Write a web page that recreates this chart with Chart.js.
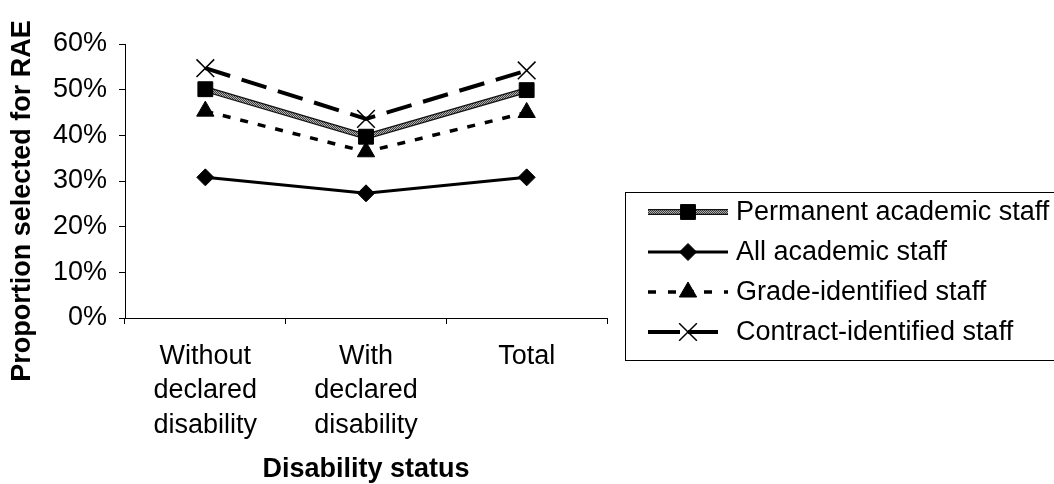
<!DOCTYPE html>
<html>
<head>
<meta charset="utf-8">
<script src="https://cdn.jsdelivr.net/npm/chart.js@4/dist/chart.umd.min.js"></script>
<style>
  html, body { margin: 0; padding: 0; background: #fff; }
  #wrap { width: 1054px; height: 484px; position: relative; }
</style>
</head>
<body>
<div id="wrap"><canvas id="c" width="1054" height="484"></canvas></div>
<script>
// Categories on the x axis (multi-line labels)
const categories = [
  ['Without', 'declared', 'disability'],
  ['With', 'declared', 'disability'],
  ['Total']
];

// Proportion selected for RAE, per staff group
const permanentAcademic = [0.501, 0.397, 0.499];
const allAcademic = [0.308, 0.273, 0.308];
const gradeIdentified = [0.453, 0.364, 0.450];
const contractIdentified = [0.547, 0.436, 0.542];

const seriesNames = [
  'Permanent academic staff',
  'All academic staff',
  'Grade-identified staff',
  'Contract-identified staff'
];

const yTickValues = [0, 0.1, 0.2, 0.3, 0.4, 0.5, 0.6];

const FONT = '"Liberation Sans", Arial, sans-serif';
const FS = 27;

// Grey stippled stroke used for the permanent-staff line
function stipple() {
  const p = document.createElement('canvas');
  p.width = 2; p.height = 2;
  const g = p.getContext('2d');
  g.fillStyle = '#b4b4b4'; g.fillRect(0, 0, 2, 2);
  g.fillStyle = '#3c3c3c'; g.fillRect(0, 0, 1, 1); g.fillRect(1, 1, 1, 1);
  return g.createPattern(p, 'repeat');
}

const datasets = [
  {
    label: seriesNames[0], data: permanentAcademic,
    borderColor: stipple(), borderWidth: 3.5, edge: 6,
    pointStyle: 'rect', pointRadius: 10.5,
    pointBackgroundColor: '#000', pointBorderColor: '#000', pointBorderWidth: 1
  },
  {
    label: seriesNames[1], data: allAcademic,
    borderColor: '#000', borderWidth: 3,
    pointStyle: 'rectRot', pointRadius: 8.5,
    pointBackgroundColor: '#000', pointBorderColor: '#000', pointBorderWidth: 1
  },
  {
    label: seriesNames[2], data: gradeIdentified,
    borderColor: '#000', borderWidth: 3.5, borderDash: [8, 10],
    legendDash: [8, 12, 8, 10, 8, 10, 8, 12],
    pointStyle: 'triangle', pointRadius: 10,
    pointBackgroundColor: '#000', pointBorderColor: '#000', pointBorderWidth: 1
  },
  {
    label: seriesNames[3], data: contractIdentified,
    borderColor: '#000', borderWidth: 4, borderDash: [26, 12],
    legendDash: [32, 8, 30, 100],
    pointStyle: 'crossRot', pointRadius: 12.5,
    pointBackgroundColor: '#000', pointBorderColor: '#000', pointBorderWidth: 1.5
  }
];

// Dark rim under the stippled permanent-staff line
const lineRim = {
  id: 'lineRim',
  beforeDatasetDraw(chart, args) {
    const ds = chart.data.datasets[args.index];
    if (!ds.edge) return;
    const line = args.meta.dataset;
    const opts = line.options;
    const saved = { c: opts.borderColor, w: opts.borderWidth };
    opts.borderColor = '#111';
    opts.borderWidth = ds.edge;
    line.draw(chart.ctx, chart.chartArea);
    opts.borderColor = saved.c;
    opts.borderWidth = saved.w;
  }
};

// Axis titles and the boxed legend beside the plot
const decorations = {
  id: 'decorations',
  afterDraw(chart) {
    const ctx = chart.ctx;
    const area = chart.chartArea;
    ctx.save();
    ctx.fillStyle = '#000';
    ctx.font = 'bold ' + FS + 'px ' + FONT;
    ctx.textAlign = 'center';
    ctx.textBaseline = 'middle';
    ctx.fillText('Disability status', (area.left + area.right) / 2, 470);
    ctx.translate(23, 201);
    ctx.rotate(-Math.PI / 2);
    ctx.fillText('Proportion selected for RAE', 0, 0);
    ctx.restore();

    // legend box
    ctx.save();
    ctx.strokeStyle = '#000';
    ctx.lineWidth = 1;
    ctx.strokeRect(625.5, 192.5, 500, 168);
    const rows = [212, 252, 292, 332];
    chart.data.datasets.forEach((ds, i) => {
      const y = rows[i];
      ctx.save();
      ctx.lineCap = 'butt';
      if (ds.edge) {
        ctx.strokeStyle = '#111';
        ctx.lineWidth = ds.edge;
        ctx.beginPath(); ctx.moveTo(648, y); ctx.lineTo(728, y); ctx.stroke();
      }
      ctx.strokeStyle = ds.borderColor;
      ctx.lineWidth = ds.borderWidth;
      ctx.setLineDash(ds.legendDash || ds.borderDash || []);
      ctx.beginPath();
      ctx.moveTo(648, y);
      ctx.lineTo(728, y);
      ctx.stroke();
      ctx.restore();
      ctx.save();
      ctx.fillStyle = ds.pointBackgroundColor;
      ctx.strokeStyle = ds.pointBorderColor;
      ctx.lineWidth = ds.pointBorderWidth;
      Chart.helpers.drawPoint(ctx, {
        pointStyle: ds.pointStyle, radius: ds.pointRadius,
        rotation: 0, borderWidth: ds.pointBorderWidth
      }, 688, y);
      ctx.restore();
      ctx.fillStyle = '#000';
      ctx.font = FS + 'px ' + FONT;
      ctx.textAlign = 'left';
      ctx.textBaseline = 'middle';
      ctx.fillText(ds.label, 736, y + 1);
    });
    ctx.restore();
  }
};

new Chart(document.getElementById('c'), {
  type: 'line',
  data: { labels: categories, datasets: datasets },
  plugins: [lineRim, decorations],
  options: {
    responsive: false,
    animation: false,
    devicePixelRatio: 1,
    layout: { padding: { left: 0, top: 44, right: 447, bottom: 0 } },
    plugins: { legend: { display: false }, tooltip: { enabled: false } },
    elements: { line: { tension: 0 } },
    scales: {
      x: {
        type: 'category',
        offset: true,
        afterFit(s) { s.height = 166; },
        grid: { offset: true, drawOnChartArea: false, drawTicks: true, tickLength: 6, color: '#000' },
        border: { color: '#000', width: 1 },
        ticks: {
          color: '#000', padding: 16, maxRotation: 0, autoSkip: false,
          font: { family: FONT, size: FS, lineHeight: 1.26 }
        }
      },
      y: {
        min: 0, max: 0.6,
        afterFit(s) { s.width = 125; },
        afterBuildTicks(s) { s.ticks = yTickValues.map(v => ({ value: v })); },
        grid: { drawOnChartArea: false, drawTicks: true, tickLength: 6, color: '#000' },
        border: { color: '#000', width: 1 },
        ticks: {
          color: '#000', padding: 12,
          font: { family: FONT, size: FS },
          callback: v => Math.round(v * 100) + '%'
        }
      }
    }
  }
});
</script>
</body>
</html>
